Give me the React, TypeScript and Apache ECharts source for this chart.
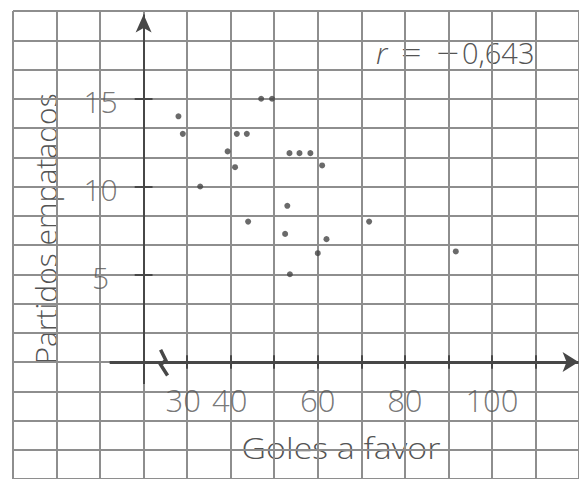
import React, { useEffect, useRef } from "react";
import * as echarts from "echarts";

// Data: goals scored vs drawn matches
const golesAFavor = [47, 49.5, 28, 29, 41.4, 43.7, 39.3, 41, 33, 53.5, 55.8, 58.3, 61, 53, 71.8, 52.5, 62, 60, 53.6, 44, 91.7];
const partidosEmpatados = [15, 15, 14, 13, 13, 13, 12, 11.1, 10, 11.9, 11.9, 11.9, 11.2, 8.9, 8, 7.3, 7, 6.2, 5, 8, 6.3];

// Axis ticks and labels
const xTicks = [30, 40, 50, 60, 70, 80, 90, 100, 110];
const xLabelValues = [30, 40, 60, 80, 100];
const xLabelTexts = ["30", "40", "60", "80", "100"];
const yTicks = [5, 10, 15];
const yLabelTexts = ["5", "10", "15"];

const xTitle = "Goles a favor";
const yTitle = "Partidos empatados";
const rSymbol = "r";
const rSign = "−";
const rValue = "0,643";

// axis break symbol (data units)
const breakX = [23.9, 25.1, 23.9, 25.5];
const breakY = [0.7, 0.1, -0.15, -0.77];

const FONT = "'Open Sans', 'Noto Sans', sans-serif";
const TEXT = "#545454";
const AXIS = "#474747";
const W = 350;

export default function App() {
  const ref = useRef<HTMLDivElement>(null);
  useEffect(() => {
    if (!ref.current) return;
    const chart = echarts.init(ref.current, undefined, { renderer: "svg" });
    const tickSegs: any[] = [];
    xTicks.forEach((v) => tickSegs.push([{ coord: [v, -0.38] }, { coord: [v, 0.38] }]));
    yTicks.forEach((v) => tickSegs.push([{ coord: [17.95, v] }, { coord: [22.05, v] }]));
    const txt = (size: number) => ({ fill: TEXT, font: `${W} ${size}px ${FONT}` });
    const option: any = {
      animation: false,
      backgroundColor: "#ffffff",
      textStyle: { fontFamily: FONT },
      grid: { left: 13, top: 11, right: -1.7, bottom: -3.2, containLabel: false },
      xAxis: [
        { type: "value", min: -10, max: 120, show: false },
        {
          type: "value", min: 0, max: 13, interval: 1,
          axisLine: { show: false }, axisTick: { show: false }, axisLabel: { show: false },
          splitLine: { show: true, lineStyle: { color: "#8e8e8e", width: 2 } },
        },
      ],
      yAxis: [
        { type: "value", min: -20 / 3, max: 20, show: false },
        {
          type: "value", min: 0, max: 16, interval: 1,
          axisLine: { show: false }, axisTick: { show: false }, axisLabel: { show: false },
          splitLine: { show: true, lineStyle: { color: "#8e8e8e", width: 2 } },
        },
      ],
      series: [
        {
          type: "scatter",
          xAxisIndex: 0, yAxisIndex: 0,
          data: [],
          silent: true,
          markLine: {
            silent: true,
            symbol: ["none", "none"],
            label: { show: false },
            lineStyle: { color: AXIS, width: 2, type: "solid" },
            data: [
              [
                { coord: [20, -1.25], symbol: "none" },
                { coord: [20, 19.8], symbol: "arrow", symbolSize: [12, 18] },
              ],
              [
                { coord: [12.2, 0], symbol: "none", lineStyle: { width: 3 } },
                { coord: [119.9, 0], symbol: "arrow", symbolSize: [15, 16], lineStyle: { width: 3 } },
              ],
              ...tickSegs,
            ],
          },
        },
        {
          type: "lines",
          coordinateSystem: "cartesian2d",
          xAxisIndex: 0, yAxisIndex: 0,
          polyline: true,
          silent: true,
          lineStyle: { color: AXIS, width: 3.5, opacity: 1 },
          data: [{ coords: breakX.map((x, i) => [x, breakY[i]]) }],
          z: 3,
        },
        {
          type: "scatter",
          xAxisIndex: 0, yAxisIndex: 0,
          symbol: "circle",
          symbolSize: 6,
          itemStyle: { color: "#454545" },
          data: golesAFavor.map((x, i) => [x, partidosEmpatados[i]]),
          z: 4,
        },
        {
          type: "scatter",
          xAxisIndex: 0, yAxisIndex: 0,
          symbolSize: 0,
          silent: true,
          data: xLabelValues.map((v, i) => ({
            value: [v, 0],
            label: {
              show: true, position: "inside", formatter: xLabelTexts[i],
              offset: [v === 30 ? -4 : v === 40 ? -1 : 0, 38],
              fontSize: 31, fontWeight: W, color: TEXT, fontFamily: FONT,
            },
          })),
        },
        {
          type: "scatter",
          xAxisIndex: 0, yAxisIndex: 0,
          symbolSize: 0,
          silent: true,
          data: yTicks.map((v, i) => ({
            value: [20, v],
            label: {
              show: true, position: "inside", formatter: yLabelTexts[i],
              offset: [-43, 3],
              fontSize: 30, fontWeight: W, color: TEXT, fontFamily: FONT,
            },
          })),
        },
      ],
      graphic: [
        {
          type: "text", x: 341, y: 447, scaleX: 1.13,
          style: { text: xTitle, ...txt(30), align: "center", verticalAlign: "middle" },
        },
        {
          type: "text", x: 45, y: 229, rotation: Math.PI / 2,
          style: { text: yTitle, ...txt(30), align: "center", verticalAlign: "middle" },
        },
        {
          type: "text", x: 376, y: 52,
          style: { text: rSymbol, fill: TEXT, font: `italic ${W} 30px ${FONT}`, align: "left", verticalAlign: "middle" },
        },
        {
          type: "text", x: 401, y: 52, scaleX: 1.2,
          style: { text: "=", ...txt(30), align: "left", verticalAlign: "middle" },
        },
        {
          type: "text", x: 436, y: 52, scaleX: 1.35,
          style: { text: rSign, ...txt(30), align: "left", verticalAlign: "middle" },
        },
        {
          type: "text", x: 462, y: 52,
          style: { text: rValue, ...txt(29), align: "left", verticalAlign: "middle" },
        },
      ],
    };
    chart.setOption(option);
    return () => chart.dispose();
  }, []);
  return (
    <div
      ref={ref}
      style={{ position: "fixed", left: 0, top: 0, width: 579, height: 479 }}
    />
  );
}
